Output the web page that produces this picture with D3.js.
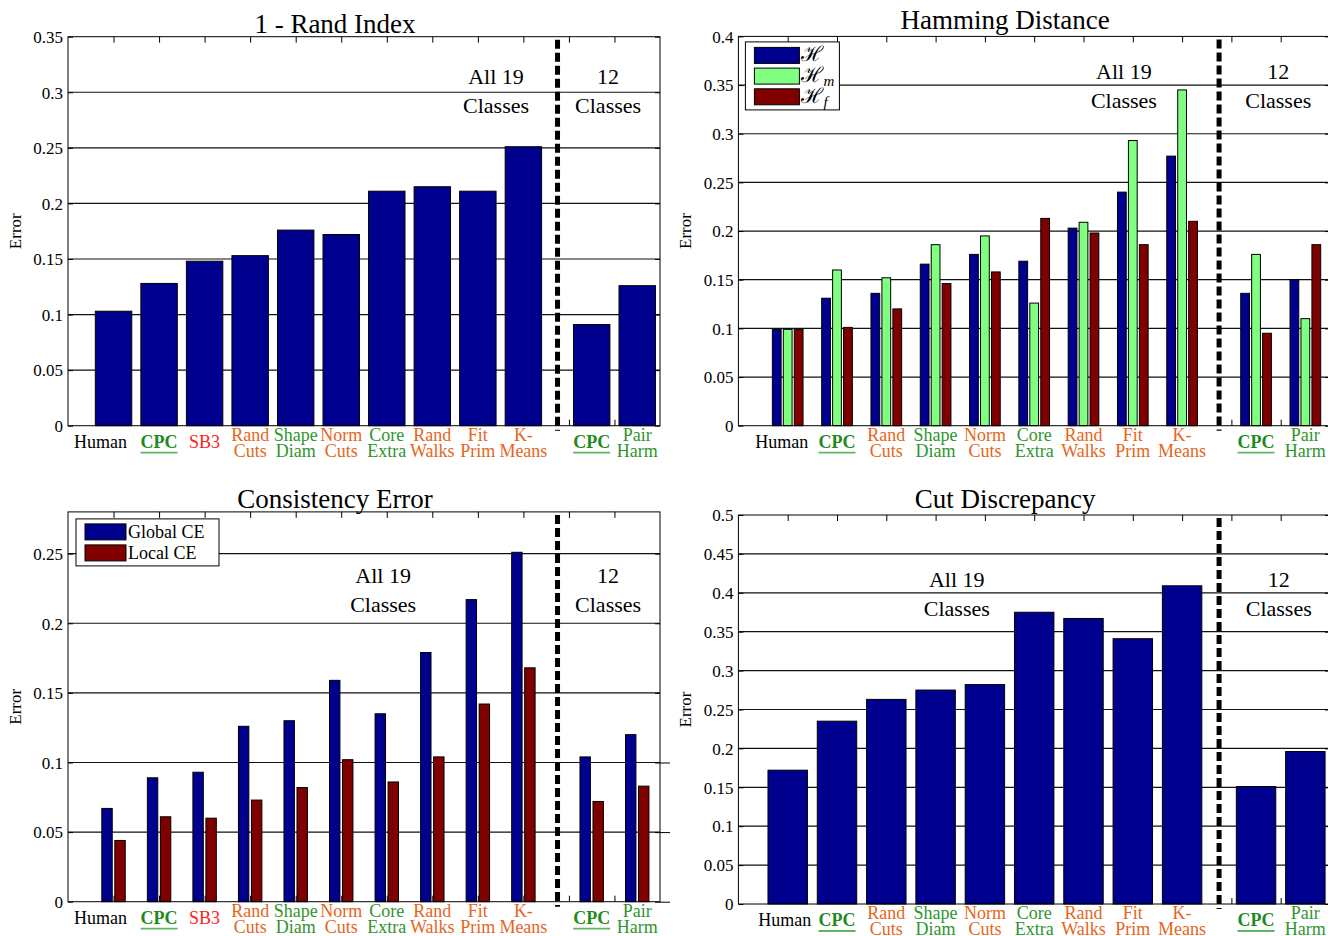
<!DOCTYPE html>
<html>
<head>
<meta charset="utf-8">
<script src="https://cdn.jsdelivr.net/npm/d3@7"></script>
<style>
  body { margin: 0; background: #fff; }
  svg { display: block; }
  text { font-family: "Liberation Serif", "Times New Roman", serif; }
</style>
</head>
<body>
<svg id="chart" width="1328" height="936"></svg>
<script>
// ---------- data ----------
const methodsAll = ["Human", "CPC", "SB3", "Rand Cuts", "Shape Diam", "Norm Cuts",
  "Core Extra", "Rand Walks", "Fit Prim", "K- Means", "CPC", "Pair Harm"];
const methodsNoSB3 = ["Human", "CPC", "Rand Cuts", "Shape Diam", "Norm Cuts",
  "Core Extra", "Rand Walks", "Fit Prim", "K- Means", "CPC", "Pair Harm"];

// 1 - Rand Index
const randIndexError = [0.103, 0.128, 0.148, 0.153, 0.176, 0.172, 0.211, 0.215, 0.211, 0.251, 0.091, 0.126];

// Hamming distance (H, Hm, Hf)
const hammingH  = [0.099, 0.131, 0.136, 0.166, 0.176, 0.169, 0.203, 0.240, 0.277, 0.136, 0.150];
const hammingHm = [0.099, 0.160, 0.152, 0.186, 0.195, 0.126, 0.209, 0.293, 0.345, 0.176, 0.110];
const hammingHf = [0.099, 0.101, 0.120, 0.146, 0.158, 0.213, 0.198, 0.186, 0.210, 0.095, 0.186];
const hammingNames = ["ℋ", "ℋ_m", "ℋ_f"];

// Consistency error
const globalCE = [0.067, 0.089, 0.093, 0.126, 0.130, 0.159, 0.135, 0.179, 0.217, 0.251, 0.104, 0.120];
const localCE  = [0.044, 0.061, 0.060, 0.073, 0.082, 0.102, 0.086, 0.104, 0.142, 0.168, 0.072, 0.083];
const ceNames = ["Global CE", "Local CE"];

// Cut discrepancy
const cutDiscrepancy = [0.172, 0.235, 0.263, 0.275, 0.282, 0.375, 0.367, 0.341, 0.409, 0.151, 0.196];

// y tick values
const ticksRand = [0, 0.05, 0.1, 0.15, 0.2, 0.25, 0.3, 0.35];
const ticksHamming = [0, 0.05, 0.1, 0.15, 0.2, 0.25, 0.3, 0.35, 0.4];
const ticksCE = [0, 0.05, 0.1, 0.15, 0.2, 0.25];
const ticksCut = [0, 0.05, 0.1, 0.15, 0.2, 0.25, 0.3, 0.35, 0.4, 0.45, 0.5];

const groupNotes = [["All 19", "Classes"], ["12", "Classes"]];

// ---------- styles ----------
const NAVY = "#00008f", LIGHTGREEN = "#80ff80", DARKRED = "#800000";
const ORANGE = "#e4661c", GREEN = "#2f942f", RED = "#ff2222";
const labelStyle = {
  "Human":      { color: "#000" },
  "CPC":        { color: "#1f8a1f", bold: true, underline: "#5cb85c" },
  "SB3":        { color: RED },
  "Rand Cuts":  { color: ORANGE },
  "Shape Diam": { color: GREEN },
  "Norm Cuts":  { color: ORANGE },
  "Core Extra": { color: GREEN },
  "Rand Walks": { color: ORANGE },
  "Fit Prim":   { color: ORANGE },
  "K- Means":   { color: ORANGE },
  "Pair Harm":  { color: GREEN }
};

const fmt = v => String(+v.toFixed(2));
const svg = d3.select("#chart");

function drawPanel(cfg) {
  const g = svg.append("g");
  const n = cfg.categories.length;
  // the last two methods sit in a separate group after a half-slot gap
  const pos = cfg.categories.map((_, i) => i < n - 2 ? i + 1 : i + 1.5);
  const x = d3.scaleLinear().domain([0, n + 1]).range([cfg.left, cfg.right]);
  const y = d3.scaleLinear().domain([0, cfg.yMax]).range([cfg.bottom, cfg.top]);
  const catTicks = d3.range(1, n + 1);

  // horizontal grid
  g.append("g").selectAll("line")
    .data(cfg.yTicks.filter(t => t > 0 && y(t) > cfg.top + 1))
    .join("line")
    .attr("x1", cfg.left).attr("x2", cfg.right)
    .attr("y1", d => y(d)).attr("y2", d => y(d))
    .attr("stroke", "#111").attr("stroke-width", 1.2);

  // inward ticks on all four sides
  const styleAxis = sel => {
    sel.select(".domain").remove();
    sel.selectAll("line").attr("stroke", "#000");
  };
  g.append("g").attr("transform", `translate(0,${cfg.top})`)
    .call(d3.axisTop(x).tickValues(catTicks).tickSizeInner(-6).tickSizeOuter(0).tickFormat(""))
    .call(styleAxis);
  g.append("g").attr("transform", `translate(0,${cfg.bottom})`)
    .call(d3.axisBottom(x).tickValues(catTicks).tickSizeInner(-6).tickSizeOuter(0).tickFormat(""))
    .call(styleAxis);
  g.append("g").attr("transform", `translate(${cfg.right},0)`)
    .call(d3.axisRight(y).tickValues(cfg.yTicks).tickSizeInner(-5).tickSizeOuter(0).tickFormat(""))
    .call(styleAxis);
  if (cfg.outerRightTicks) {
    g.append("g").attr("transform", `translate(${cfg.right},0)`)
      .call(d3.axisRight(y).tickValues(cfg.outerRightTicks).tickSizeInner(10).tickSizeOuter(0).tickFormat(""))
      .call(styleAxis);
  }
  const yAxis = g.append("g").attr("transform", `translate(${cfg.left},0)`)
    .call(d3.axisLeft(y).tickValues(cfg.yTicks).tickSizeInner(-5).tickSizeOuter(0)
      .tickPadding(5).tickFormat(fmt))
    .call(styleAxis);
  yAxis.attr("font-family", null).attr("font-size", null);
  yAxis.selectAll("text")
    .style("font-family", '"Liberation Serif", "Times New Roman", serif')
    .style("font-size", "17px").attr("fill", "#000").attr("dy", "0.34em");

  // bars (grouped, MATLAB-style widths)
  const ns = cfg.series.length;
  const groupW = ns === 1 ? 0.8 : Math.min(0.8, ns / (ns + 1.5));
  const slot = ns === 1 ? 0.8 : groupW / ns;
  const barW = ns === 1 ? 0.8 : slot * 0.8;
  cfg.series.forEach((s, si) => {
    const off = ns === 1 ? 0 : (si - (ns - 1) / 2) * slot;
    g.append("g").selectAll("rect")
      .data(s.values)
      .join("rect")
      .attr("x", (d, i) => x(pos[i] + off - barW / 2))
      .attr("width", x(barW) - x(0))
      .attr("y", d => y(d))
      .attr("height", d => y(0) - y(d))
      .attr("fill", s.color)
      .attr("stroke", "#000").attr("stroke-width", 1);
  });

  // divider between the two class groups
  const divX = x(n - 1.25);
  g.append("line")
    .attr("x1", divX).attr("x2", divX)
    .attr("y1", cfg.top + 3).attr("y2", cfg.bottom + 5)
    .attr("stroke", "#000").attr("stroke-width", 5)
    .attr("stroke-dasharray", "9,4");

  // axes box
  g.append("rect")
    .attr("x", cfg.left).attr("y", cfg.top)
    .attr("width", cfg.right - cfg.left).attr("height", cfg.bottom - cfg.top)
    .attr("fill", "none").attr("stroke", "#000").attr("stroke-width", 1);

  // title
  g.append("text")
    .attr("x", (cfg.left + cfg.right) / 2 - 29).attr("y", cfg.top - cfg.titleGap)
    .attr("text-anchor", "middle").attr("font-size", 27)
    .text(cfg.title);

  // y label
  g.append("text")
    .attr("transform", `translate(${cfg.left - 47},${(cfg.top + cfg.bottom) / 2}) rotate(-90)`)
    .attr("text-anchor", "middle").attr("font-size", 17)
    .text("Error");

  // group annotations
  cfg.notePos.forEach((p, k) => {
    const t = g.append("text").attr("text-anchor", "middle").attr("font-size", 22);
    groupNotes[k].forEach((line, li) => {
      t.append("tspan").attr("x", x(p[0])).attr("y", y(cfg.noteY) + li * 29).text(line);
    });
  });

  // category labels
  cfg.categories.forEach((name, i) => {
    const st = labelStyle[name];
    const lines = name.split(" ");
    const cx = x(pos[i]) + (i === 0 ? cfg.firstLabelDx : 0);
    const t = g.append("text")
      .attr("text-anchor", "middle").attr("font-size", 18)
      .attr("fill", st.color)
      .attr("font-weight", st.bold ? "bold" : null);
    if (lines.length === 1) {
      t.append("tspan").attr("x", cx).attr("y", cfg.bottom + 22).text(name);
    } else {
      lines.forEach((ln, li) => {
        t.append("tspan").attr("x", cx).attr("y", cfg.bottom + 15 + li * 16).text(ln);
      });
    }
    if (st.underline) {
      const w = t.node().getComputedTextLength();
      g.append("line")
        .attr("x1", cx - w / 2).attr("x2", cx + w / 2)
        .attr("y1", cfg.bottom + 27).attr("y2", cfg.bottom + 27)
        .attr("stroke", st.underline).attr("stroke-width", 1.8);
    }
  });

  // legend
  if (cfg.legend) {
    const L = cfg.legend;
    const lg = g.append("g").attr("transform", `translate(${cfg.left + L.dx},${cfg.top + L.dy})`);
    lg.append("rect").attr("width", L.w).attr("height", L.h)
      .attr("fill", "#fff").attr("stroke", "#000").attr("stroke-width", 1);
    cfg.series.forEach((s, si) => {
      const ry = L.pad + si * L.row;
      lg.append("rect").attr("x", 9).attr("y", ry)
        .attr("width", L.sw).attr("height", 16)
        .attr("fill", s.color).attr("stroke", "#000").attr("stroke-width", 1);
      const [base, sub] = s.name.split("_");
      const t = lg.append("text").attr("x", 9 + L.sw + 2).attr("y", ry + 8 + L.base)
        .attr("font-size", L.font);
      const b = t.append("tspan").text(base);
      if (L.math) b.attr("font-family", '"DejaVu Serif", serif');
      if (sub) t.append("tspan").attr("font-size", 15).attr("font-style", "italic")
        .attr("dy", 4).text(sub);
    });
  }
}

drawPanel({
  title: "1 - Rand Index", categories: methodsAll,
  left: 68, right: 660, top: 36.7, bottom: 425.7, yMax: 0.35, yTicks: ticksRand,
  series: [{ name: "", values: randIndexError, color: NAVY }],
  notePos: [[9.4], [11.86]], noteY: 0.307, firstLabelDx: -13, titleGap: 4
});

drawPanel({
  title: "Hamming Distance", categories: methodsNoSB3,
  left: 738.4, right: 1330, top: 36.4, bottom: 425.7, yMax: 0.4, yTicks: ticksHamming,
  series: [
    { name: hammingNames[0], values: hammingH, color: NAVY },
    { name: hammingNames[1], values: hammingHm, color: LIGHTGREEN },
    { name: hammingNames[2], values: hammingHf, color: DARKRED }
  ],
  notePos: [[7.82], [10.95]], noteY: 0.3567, firstLabelDx: -6, titleGap: 7,
  legend: { dx: 7, dy: 5.5, w: 94, h: 68, pad: 5.5, row: 20.7, sw: 45, font: 21, base: 6, math: true }
});

drawPanel({
  title: "Consistency Error", categories: methodsAll,
  left: 68, right: 660, top: 511.9, bottom: 901.7, yMax: 0.28, yTicks: ticksCE,
  series: [
    { name: ceNames[0], values: globalCE, color: NAVY },
    { name: ceNames[1], values: localCE, color: DARKRED }
  ],
  notePos: [[6.92], [11.86]], noteY: 0.2286, firstLabelDx: -13, titleGap: 4,
  outerRightTicks: [0, 0.05, 0.1],
  legend: { dx: 8, dy: 7, w: 143, h: 47, pad: 5, row: 21, sw: 41, font: 18, base: 6, math: false }
});

drawPanel({
  title: "Cut Discrepancy", categories: methodsNoSB3,
  left: 738.4, right: 1330, top: 515, bottom: 904, yMax: 0.5, yTicks: ticksCut,
  series: [{ name: "", values: cutDiscrepancy, color: NAVY }],
  notePos: [[4.43], [10.96]], noteY: 0.407, firstLabelDx: -3, titleGap: 7
});
</script>
</body>
</html>
